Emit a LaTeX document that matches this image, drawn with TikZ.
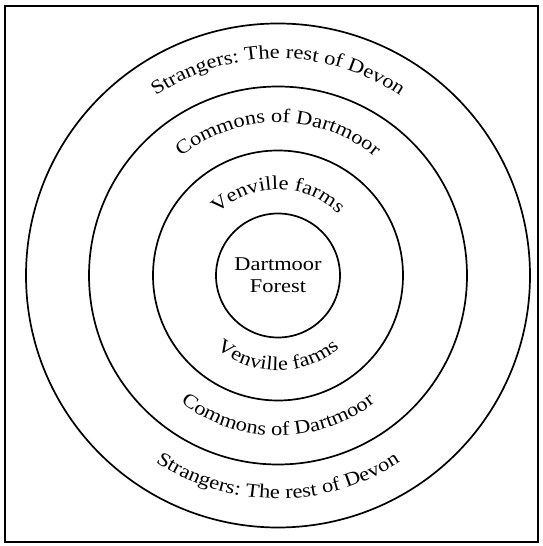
\documentclass[tikz,border=0pt]{standalone}
\usepackage{fontspec}
\setmainfont{Liberation Serif}
\newfontfamily\widefont[FakeStretch=1.15]{Liberation Serif}
\newcommand\ringlabelfont{\widefont\fontsize{19.5}{22}\selectfont}
\usetikzlibrary{decorations.text}
\begin{document}
\begin{tikzpicture}[x=1pt,y=1pt,
  ring/.style={circle, draw, line width=1.7pt, inner sep=0pt},
  frame/.style={draw, line width=1.2pt},
  toplabel/.style={decorate, decoration={text along path, text align=center, text={|\ringlabelfont|#1}}},
  botlabel/.style={decorate, decoration={text along path, text align=center, text={|\ringlabelfont|#1}}}]
\useasboundingbox (0,0) rectangle (543,546);
\path[frame] (5,4) rectangle (538,540);
\coordinate (O) at (278,270.5);
\node[ring, minimum size=504pt] (r4) at (O) {};
\node[ring, minimum size=378pt] (r3) at (O) {};
\node[ring, minimum size=250pt] (r2) at (O) {};
\node[ring, minimum size=124pt, align=center, font=\ringlabelfont] (r1) at (O) {Dartmoor\\Forest};
% top labels (clockwise arcs)
\path[toplabel={Strangers: The rest of Devon}] ([shift={(150:217pt)}]O) arc[start angle=150, end angle=30, radius=217pt];
\path[toplabel={Commons of Dartmoor}] ([shift={(150:153pt)}]O) arc[start angle=150, end angle=30, radius=153pt];
\path[toplabel={Venville farms}] ([shift={(160:86pt)}]O) arc[start angle=160, end angle=20, radius=86pt];
% bottom labels (counter-clockwise arcs)
\path[botlabel={Strangers: The rest of Devon}] ([shift={(210:223pt)}]O) arc[start angle=210, end angle=330, radius=223pt];
\path[botlabel={Commons of Dartmoor}] ([shift={(210:160pt)}]O) arc[start angle=210, end angle=330, radius=160pt];
\path[botlabel={Venville farms}] ([shift={(200:95pt)}]O) arc[start angle=200, end angle=340, radius=95pt];
\end{tikzpicture}
\end{document}
